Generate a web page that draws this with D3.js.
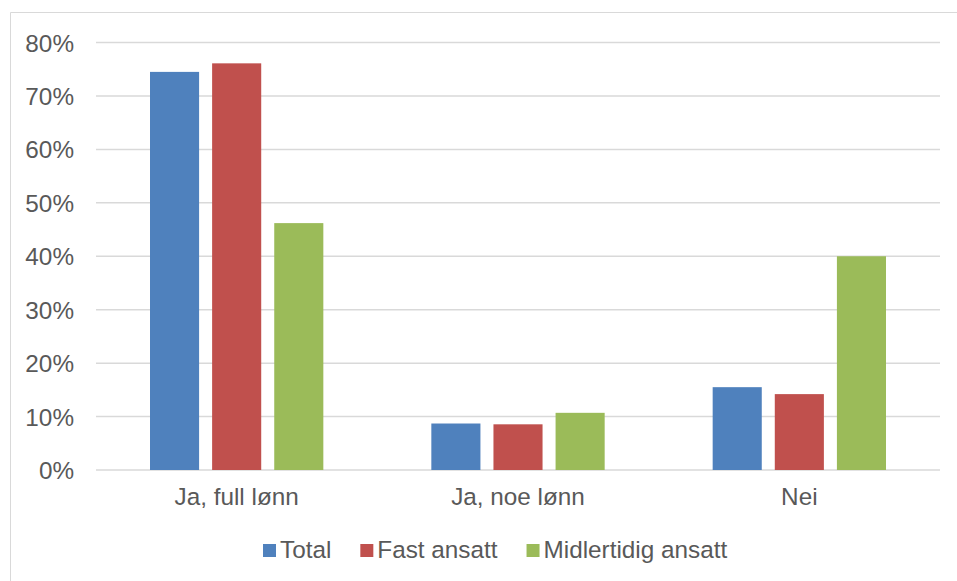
<!DOCTYPE html>
<html>
<head>
<meta charset="utf-8">
<script src="https://cdn.jsdelivr.net/npm/d3@7"></script>
<style>
  html, body { margin: 0; padding: 0; background: #fff; }
  svg { display: block; }
  svg text { font-family: "Liberation Sans", Arial, sans-serif; fill: #595959; font-size: 24.3px; }
</style>
</head>
<body>
<svg id="chart" width="957" height="581"></svg>
<script>
// Chart data
const categories = ['Ja, full lønn', 'Ja, noe lønn', 'Nei'];
const seriesNames = ['Total', 'Fast ansatt', 'Midlertidig ansatt'];
const seriesColors = ['#4F81BD', '#C0504D', '#9BBB59'];
const totalValues = [74.5, 8.7, 15.5];
const fastValues = [76.1, 8.55, 14.2];
const midlertidigValues = [46.2, 10.7, 40.0];
const yTicks = [0, 10, 20, 30, 40, 50, 60, 70, 80];

const seriesValues = [totalValues, fastValues, midlertidigValues];

const svg = d3.select('#chart');
const width = 957;
const height = 581;

// Plot area
const margin = { top: 42.5, right: 17, bottom: 111, left: 96 };
const innerWidth = width - margin.left - margin.right;
const innerHeight = height - margin.top - margin.bottom;

// Outer chart border (runs past the right and bottom edges)
svg.append('path')
  .attr('d', `M10.5,${height} V12.5 H${width}`)
  .attr('fill', 'none')
  .attr('stroke', '#d9d9d9')
  .attr('stroke-width', 1);

const g = svg.append('g')
  .attr('transform', `translate(${margin.left},${margin.top})`);

const x0 = d3.scaleBand()
  .domain(categories)
  .range([0, innerWidth]);

// bars: width 49, gap 13 inside each 281px band
const x1 = d3.scaleBand()
  .domain(seriesNames)
  .range([54, x0.bandwidth() - 54])
  .paddingInner(13 / 62);

const y = d3.scaleLinear()
  .domain([0, 80])
  .range([innerHeight, 0]);

// Gridlines
g.append('g')
  .attr('class', 'grid')
  .selectAll('line')
  .data(yTicks)
  .join('line')
  .attr('x1', 0)
  .attr('x2', innerWidth)
  .attr('y1', d => y(d))
  .attr('y2', d => y(d))
  .attr('stroke', '#d9d9d9')
  .attr('stroke-width', 1.5);

// Y axis labels
const yAxis = d3.axisLeft(y)
  .tickValues(yTicks)
  .tickFormat(d => `${d}%`)
  .tickSize(0)
  .tickPadding(22);

g.append('g')
  .attr('class', 'axis y-axis')
  .call(yAxis)
  .call(sel => sel.select('.domain').remove())
  .selectAll('text')
  .attr('dy', '0.35em');

// Bars
const rows = categories.map((cat, i) => ({
  cat,
  values: seriesNames.map((name, s) => ({ name, color: seriesColors[s], value: seriesValues[s][i] })),
}));

g.append('g')
  .attr('class', 'bars')
  .selectAll('g')
  .data(rows)
  .join('g')
  .attr('transform', d => `translate(${x0(d.cat)},0)`)
  .selectAll('rect')
  .data(d => d.values)
  .join('rect')
  .attr('x', d => x1(d.name))
  .attr('width', x1.bandwidth())
  .attr('y', d => y(d.value))
  .attr('height', d => y(0) - y(d.value))
  .attr('fill', d => d.color);

// X axis labels
const xAxis = d3.axisBottom(x0)
  .tickSize(0)
  .tickPadding(18);

g.append('g')
  .attr('class', 'axis x-axis')
  .attr('transform', `translate(0,${innerHeight})`)
  .call(xAxis)
  .call(sel => sel.select('.domain').remove());

// Legend
const legend = svg.append('g')
  .attr('class', 'legend');

let lx = 263;
seriesNames.forEach((name, i) => {
  const item = legend.append('g');
  item.append('rect')
    .attr('x', lx)
    .attr('y', 544)
    .attr('width', 13)
    .attr('height', 13)
    .attr('fill', seriesColors[i]);
  const text = item.append('text')
    .attr('x', lx + 17)
    .attr('y', 557.5)
    .text(name);
  lx += 17 + text.node().getComputedTextLength() + 29;
});
</script>
</body>
</html>
